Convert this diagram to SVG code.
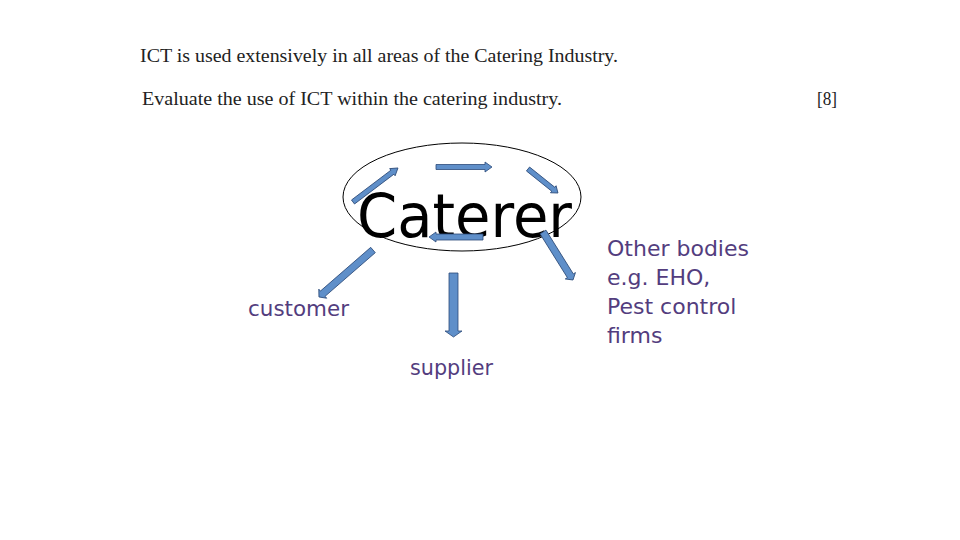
<svg xmlns="http://www.w3.org/2000/svg" width="960" height="540" viewBox="0 0 960 540">
<style>
.q{font-family:"Liberation Serif","Times New Roman",serif;font-size:19px;fill:#222}
.big{font-family:"DejaVu Sans","Comic Sans MS",sans-serif;font-size:60px;fill:#000}
.lbl{font-family:"DejaVu Sans","Comic Sans MS",sans-serif;font-size:22px;fill:#533d7e}
.arr{fill:#5f8fc9;stroke:#2c4a78;stroke-width:0.8}
</style>
<rect width="960" height="540" fill="#fff"/>
<g id="question">
<text class="q" x="140" y="62" textLength="478" lengthAdjust="spacingAndGlyphs">ICT is used extensively in all areas of the Catering Industry.</text>
<text class="q" x="142" y="105" textLength="420" lengthAdjust="spacingAndGlyphs">Evaluate the use of ICT within the catering industry.</text>
<text class="q" x="817" y="105" textLength="20" lengthAdjust="spacingAndGlyphs">[8]</text>
</g>
<g id="caterer">
<ellipse cx="462" cy="197" rx="119" ry="54" fill="none" stroke="#000" stroke-width="1"/>
<text class="big" x="357" y="237" textLength="215" lengthAdjust="spacingAndGlyphs">Caterer</text>
</g>
<g id="customer">
<text class="lbl" x="248" y="316" textLength="101" lengthAdjust="spacingAndGlyphs">customer</text>
</g>
<g id="supplier">
<text class="lbl" x="410" y="375" textLength="83" lengthAdjust="spacingAndGlyphs">supplier</text>
</g>
<g id="other">
<text class="lbl" x="607" y="256">Other bodies</text>
<text class="lbl" x="607" y="285">e.g. EHO,</text>
<text class="lbl" x="607" y="314">Pest control</text>
<text class="lbl" x="607" y="343">firms</text>
</g>
<g id="connectors">
<path class="arr" transform="translate(353,202) rotate(-37.1)" d="M0,-2.5 H49.4 V-4.5 L56.4,0 L49.4,4.5 V2.5 H0 Z"/>
<path class="arr" transform="translate(436,167)" d="M0,-2.5 H49 V-5 L56,0 L49,5 V2.5 H0 Z"/>
<path class="arr" transform="translate(528,169) rotate(38.7)" d="M0,-2.5 H32.4 V-4.5 L38.4,0 L32.4,4.5 V2.5 H0 Z"/>
<path class="arr" transform="translate(483,237) rotate(180)" d="M0,-3 H47 V-5 L54,0 L47,5 V3 H0 Z"/>
<path class="arr" transform="translate(543,232) rotate(58)" d="M0,-3.5 H51.6 V-6 L56.6,0 L51.6,6 V3.5 H0 Z"/>
<path class="arr" transform="translate(373,250) rotate(139)" d="M0,-3.5 H66.6 V-6 L71.6,0 L66.6,6 V3.5 H0 Z"/>
<path class="arr" transform="translate(453.5,273) rotate(90)" d="M0,-4.5 H58 V-8.5 L64,0 L58,8.5 V4.5 H0 Z"/>
</g>
</svg>
